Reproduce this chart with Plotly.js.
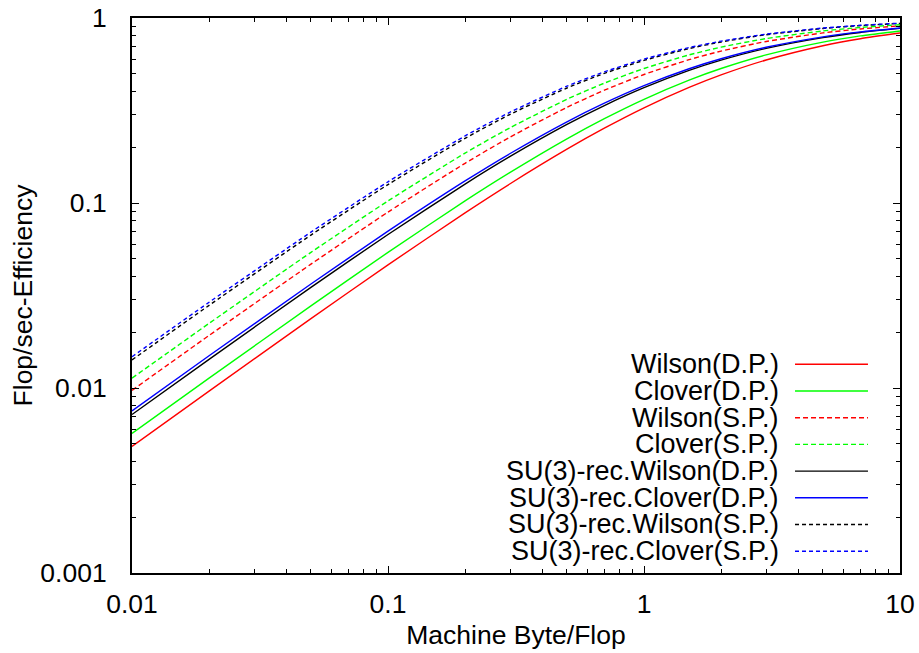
<!DOCTYPE html>
<html>
<head>
<meta charset="utf-8">
<script src="https://cdn.plot.ly/plotly-3.0.1.min.js"></script>
<style>
html,body{margin:0;padding:0;background:#fff;}
#chart{width:919px;height:653px;}
</style>
</head>
<body>
<div id="chart"></div>
<script>
// Machine Byte/Flop sample positions
const byteFlop = [0.01, 0.02, 0.05, 0.1, 0.2, 0.3, 0.5, 0.7, 1, 1.5, 2, 3, 5, 7, 10];

// Flop/sec efficiency
const wilsonDP    = [0.00483, 0.00962, 0.0237, 0.0463, 0.0885, 0.1271, 0.1953, 0.2536, 0.3268, 0.4213, 0.4926, 0.5929, 0.7082, 0.7726, 0.8292];
const cloverDP    = [0.00568, 0.0113, 0.0278, 0.0541, 0.1026, 0.1463, 0.2222, 0.2857, 0.3636, 0.4615, 0.5333, 0.6316, 0.7407, 0.8000, 0.8511];
const wilsonSP    = [0.00971, 0.01923, 0.0467, 0.0893, 0.1639, 0.2273, 0.3289, 0.4070, 0.4950, 0.5952, 0.6623, 0.7463, 0.8306, 0.8728, 0.9074];
const cloverSP    = [0.0113, 0.02235, 0.0541, 0.1026, 0.1860, 0.2553, 0.3636, 0.4444, 0.5333, 0.6316, 0.6957, 0.7742, 0.8511, 0.8889, 0.9195];
const su3WilsonDP = [0.00719, 0.01429, 0.0350, 0.0676, 0.1266, 0.1786, 0.2660, 0.3365, 0.4202, 0.5208, 0.5917, 0.6849, 0.7837, 0.8353, 0.8787];
const su3CloverDP = [0.00752, 0.01493, 0.0365, 0.0704, 0.1316, 0.1852, 0.2747, 0.3465, 0.4310, 0.5319, 0.6024, 0.6944, 0.7911, 0.8413, 0.8834];
const su3WilsonSP = [0.01418, 0.02797, 0.0671, 0.1258, 0.2235, 0.3015, 0.4184, 0.5018, 0.5900, 0.6834, 0.7421, 0.8119, 0.8780, 0.9097, 0.9350];
const su3CloverSP = [0.01475, 0.02907, 0.0696, 0.1302, 0.2304, 0.3099, 0.4281, 0.5117, 0.5995, 0.6919, 0.7496, 0.8179, 0.8821, 0.9129, 0.9374];

const seriesNames = ["Wilson(D.P.)", "Clover(D.P.)", "Wilson(S.P.)", "Clover(S.P.)",
  "SU(3)-rec.Wilson(D.P.)", "SU(3)-rec.Clover(D.P.)", "SU(3)-rec.Wilson(S.P.)", "SU(3)-rec.Clover(S.P.)"];
const seriesValues = [wilsonDP, cloverDP, wilsonSP, cloverSP, su3WilsonDP, su3CloverDP, su3WilsonSP, su3CloverSP];

const xTickVals = [0.01, 0.1, 1, 10];
const xTickText = ["0.01", "0.1", "1", "10"];
const yTickVals = [0.001, 0.01, 0.1, 1];
const yTickText = ["0.001", "0.01", "0.1", "1"];

// styles
const colors = ["#ff0000", "#00ff00", "#ff0000", "#00ff00", "#000000", "#0000ff", "#000000", "#0000ff"];
const dashes = ["solid", "solid", "5px,3px", "5px,3px", "solid", "solid", "4px,3px", "4px,3px"];

const FONT = "Liberation Sans, Arial, Helvetica, sans-serif";

const traces = seriesValues.map((vals, i) => ({
  type: "scatter",
  mode: "lines",
  x: byteFlop,
  y: vals,
  name: seriesNames[i],
  line: {color: colors[i], width: 1.4, dash: dashes[i], shape: "spline", smoothing: 0.6},
  showlegend: false,
  hoverinfo: "x+y+name"
}));

// gnuplot-style legend: text right-aligned, sample line to its right
const legX = 0.8445, legLineX0 = 0.8633, legLineX1 = 0.9583;
const legY0 = 0.3760, legDY = 0.0481;
const annotations = seriesNames.map((n, i) => ({
  xref: "paper", yref: "paper",
  x: legX, y: legY0 - i * legDY,
  xanchor: "right", yanchor: "middle",
  text: n, showarrow: false,
  font: {family: FONT, size: 27, color: "#000"}
}));
const shapes = seriesNames.map((n, i) => ({
  type: "line", xref: "paper", yref: "paper",
  x0: legLineX0, x1: legLineX1,
  y0: legY0 - i * legDY, y1: legY0 - i * legDY,
  line: {color: colors[i], width: 1.4, dash: dashes[i]}
}));

const axisCommon = {
  type: "log",
  showgrid: false,
  zeroline: false,
  showline: true,
  linecolor: "#000",
  linewidth: 2,
  mirror: "ticks",
  ticks: "inside",
  ticklen: 7,
  tickwidth: 1,
  tickcolor: "#000",
  tickmode: "array",
  automargin: false,
  minor: {ticks: "inside", ticklen: 4, tickwidth: 1, tickcolor: "#000", dtick: "D1", showgrid: false},
  tickfont: {family: FONT, size: 26.5, color: "#000"}
};

const layout = {
  width: 919, height: 653,
  margin: {l: 132, r: 19, t: 18, b: 80},
  paper_bgcolor: "#fff",
  plot_bgcolor: "#fff",
  font: {family: FONT, size: 26.5, color: "#000"},
  showlegend: false,
  xaxis: Object.assign({}, axisCommon, {
    range: [-2, 1],
    tickvals: xTickVals, ticktext: xTickText,
    ticklabelstandoff: 6,
    title: {text: "Machine Byte/Flop", font: {family: FONT, size: 26.5, color: "#000"}, standoff: 8}
  }),
  yaxis: Object.assign({}, axisCommon, {
    range: [-3, 0],
    tickvals: yTickVals, ticktext: yTickText,
    ticklabelstandoff: 18,
    title: {text: "Flop/sec-Efficiency", font: {family: FONT, size: 26.5, color: "#000"}, standoff: 0}
  }),
  annotations: annotations,
  shapes: shapes
};

Plotly.newPlot("chart", traces, layout, {displayModeBar: false, staticPlot: true});
</script>
</body>
</html>
